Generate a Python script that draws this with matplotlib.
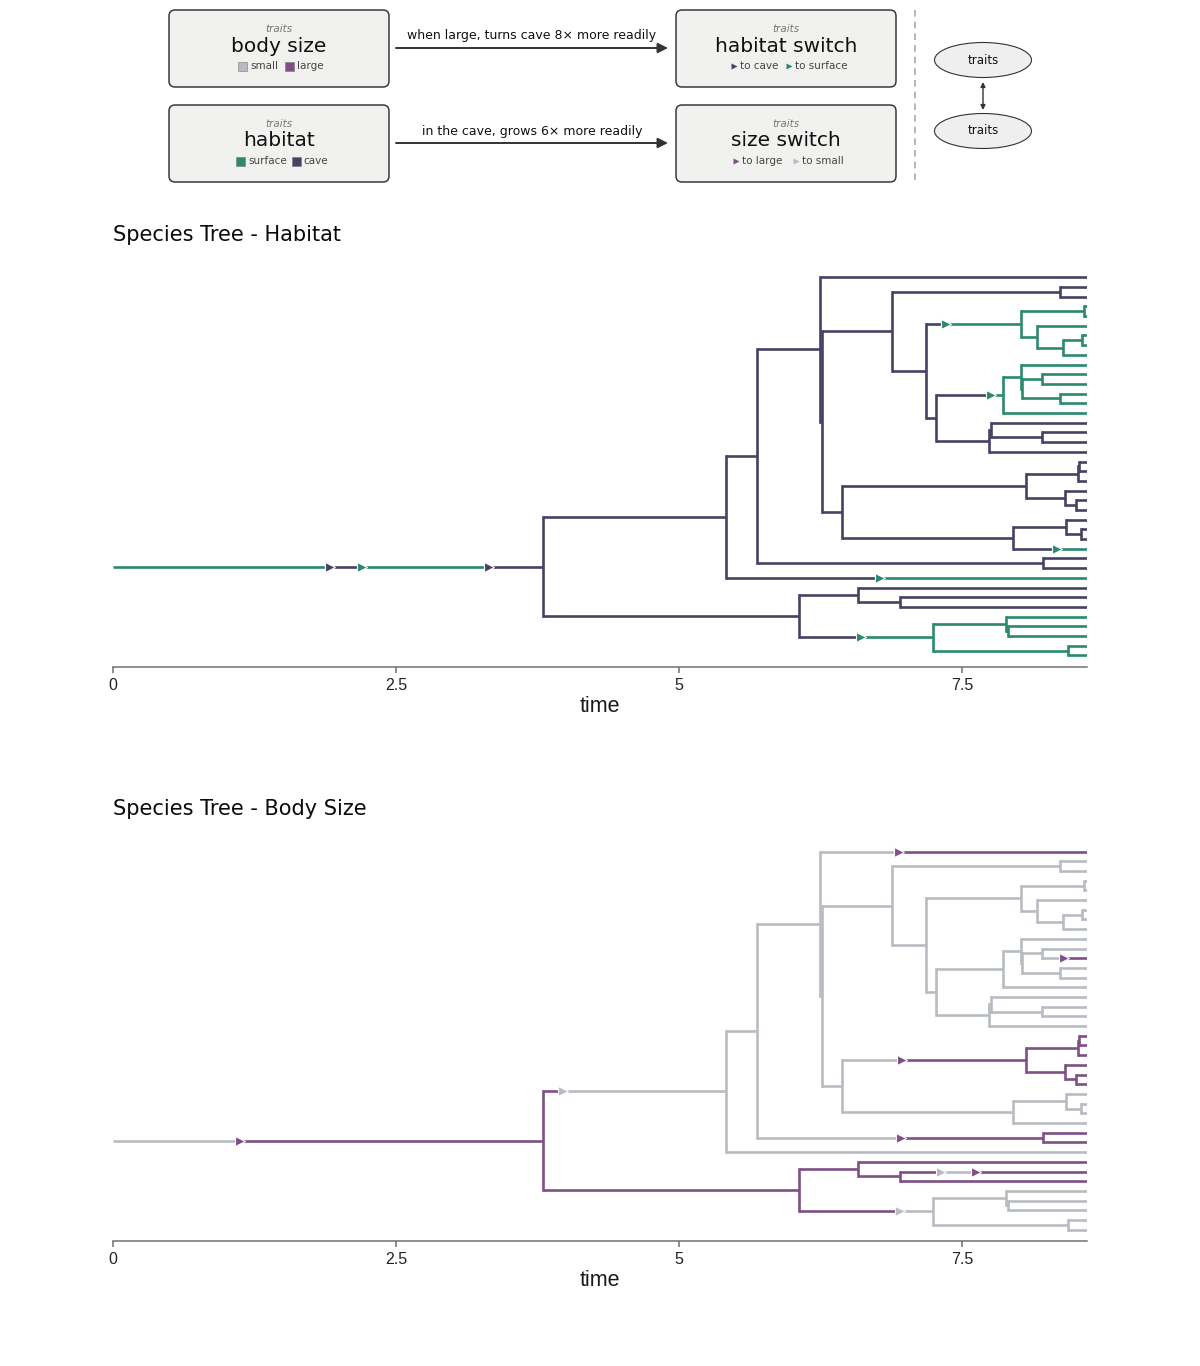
import matplotlib
matplotlib.use('Agg')
import matplotlib.pyplot as plt
from matplotlib.patches import FancyBboxPatch, Ellipse, Rectangle
from collections import defaultdict

# ---------------- data ----------------
tip_time = 8.6
internal_names = ['root', 'n726', 'n757', 'A', 'B', 'C', 'N12', 'D', 'E', 'J', 'G', 'H', 'I',
                  'F', 'K', 'Ma', 'Mb', 'P', 'Q', 'L2', 'L1', 'R',
                  'S', 'T', 'V', 'V1', 'W', 'X', 'U', 'Y', 'Z', 'AA',
                  'BB', 'CC', 'EE', 'DD', 'FF', 'FF2', 'GG']
internal_times = [3.80, 5.415, 5.69, 6.245, 6.258, 6.88, 8.36, 7.18, 8.02, 8.572, 8.16, 8.39, 8.555,
                  7.27, 7.86, 8.019, 8.03, 8.205, 8.36, 7.735, 7.75, 8.203,
                  6.437, 8.057, 8.522, 8.532, 8.404, 8.504, 7.944, 8.416, 8.551, 8.209,
                  6.06, 6.578, 6.952, 7.238, 7.889, 7.902, 8.434]
internal_children = [['n726', 'BB'], ['n757', 'leaf31'], ['A', 'AA'], ['leaf0', 'B'], ['C', 'S'],
                     ['N12', 'D'], ['leaf1', 'leaf2'], ['E', 'F'], ['J', 'G'], ['leaf3', 'leaf4'],
                     ['leaf5', 'H'], ['I', 'leaf8'], ['leaf6', 'leaf7'],
                     ['K', 'L2'], ['Ma', 'leaf14'], ['leaf9', 'Mb'], ['P', 'Q'], ['leaf10', 'leaf11'],
                     ['leaf12', 'leaf13'], ['L1', 'leaf18'], ['leaf15', 'R'], ['leaf16', 'leaf17'],
                     ['T', 'U'], ['V', 'W'], ['V1', 'leaf21'], ['leaf19', 'leaf20'], ['leaf22', 'X'],
                     ['leaf23', 'leaf24'], ['Y', 'leaf28'], ['leaf25', 'Z'], ['leaf26', 'leaf27'],
                     ['leaf29', 'leaf30'],
                     ['CC', 'DD'], ['leaf32', 'EE'], ['leaf33', 'leaf34'], ['FF', 'GG'],
                     ['leaf35', 'FF2'], ['leaf36', 'leaf37'], ['leaf38', 'leaf39']]

# habitat history (branch = node at the end of the branch)
habitat_root_state = 'surface'
habitat_switch_branch = ['root', 'root', 'root', 'E', 'K', 'leaf28', 'leaf31', 'DD']
habitat_switch_time = [1.914, 2.202, 3.316, 7.356, 7.753, 8.336, 6.776, 6.608]
habitat_switch_state = ['cave', 'surface', 'cave', 'surface', 'surface', 'surface', 'surface', 'surface']

# body size history
size_root_state = 'small'
size_switch_branch = ['root', 'n726', 'leaf0', 'leaf11', 'T', 'AA', 'leaf33', 'leaf33', 'DD']
size_switch_time = [1.12, 3.975, 6.94, 8.40, 6.97, 6.96, 7.31, 7.62, 6.95]
size_switch_state = ['large', 'small', 'large', 'large', 'large', 'large', 'small', 'large', 'small']

habitat_colors = {'surface': '#2b8a6e', 'cave': '#464263'}
size_colors = {'small': '#b8bbc2', 'large': '#7f4f86'}

xticks = [0, 2.5, 5, 7.5]
xtick_labels = ['0', '2.5', '5', '7.5']

# ---------------- tree layout ----------------
children = dict(zip(internal_names, internal_children))
node_time = dict(zip(internal_names, internal_times))
node_y = {}
counter = [0]


def layout(n):
    if n in children:
        for c in children[n]:
            layout(c)
        node_y[n] = 0.5 * (node_y[children[n][0]] + node_y[children[n][-1]])
    else:
        node_y[n] = counter[0]
        counter[0] += 1
        node_time[n] = tip_time


layout('root')

W, H = 1200, 1366
fig = plt.figure(figsize=(12, 13.66), dpi=100)

LW = 1.9


def draw_tree(ax, root_state, sw_branch, sw_time, sw_state, palette):
    events = defaultdict(list)
    for b, t, s in zip(sw_branch, sw_time, sw_state):
        events[b].append((t, s))
    marks = []

    def rec(n, state, t0):
        t1 = node_time[n]
        y = node_y[n]
        cur, tc = state, t0
        for (t, s) in sorted(events[n]):
            ax.plot([tc, t], [y, y], color=palette[cur], lw=LW, solid_capstyle='butt', zorder=2)
            marks.append((t, y, s))
            cur, tc = s, t
        ax.plot([tc, t1], [y, y], color=palette[cur], lw=LW, solid_capstyle='butt', zorder=2)
        if n in children:
            ys = [node_y[c] for c in children[n]]
            ax.plot([t1, t1], [min(ys), max(ys)], color=palette[cur], lw=LW,
                    solid_capstyle='projecting', zorder=2)
            for c in children[n]:
                rec(c, cur, t1)

    rec('root', root_state, 0.0)
    for t, y, s in marks:
        ax.plot([t], [y], marker='>', ms=7.6, color=palette[s], mec='white', mew=0.8,
                zorder=4, linestyle='none')

    ax.set_xlim(0, tip_time)
    ax.set_ylim(39 + 1.2, -1.2)
    for sp in ['top', 'right', 'left']:
        ax.spines[sp].set_visible(False)
    ax.spines['bottom'].set_color('#707070')
    ax.spines['bottom'].set_linewidth(1.1)
    ax.set_yticks([])
    ax.set_xticks(xticks)
    ax.set_xticklabels(xtick_labels, fontfamily='Liberation Sans', fontsize=11.5, color='#222222')
    ax.tick_params(axis='x', length=4, width=1.1, color='#707070', pad=4)
    ax.set_xlabel('time', fontfamily='Liberation Sans', fontsize=15.5, color='#1a1a1a', labelpad=2)


ax_h = fig.add_axes([113 / W, 1 - 667 / H, 974 / W, (667 - 265.7) / H])
draw_tree(ax_h, habitat_root_state, habitat_switch_branch, habitat_switch_time,
          habitat_switch_state, habitat_colors)
fig.text(113 / W, 1 - 235 / H, 'Species Tree - Habitat', fontsize=15, va='center', ha='left',
         color='#0a0a0a')

ax_b = fig.add_axes([113 / W, 1 - 1241.3 / H, 974 / W, (1241.3 - 840.0) / H])
draw_tree(ax_b, size_root_state, size_switch_branch, size_switch_time,
          size_switch_state, size_colors)
fig.text(113 / W, 1 - 809 / H, 'Species Tree - Body Size', fontsize=15, va='center', ha='left',
         color='#0a0a0a')

# ---------------- top diagram ----------------
dax = fig.add_axes([0, 0, 1, 1], zorder=-1)
dax.set_xlim(0, W)
dax.set_ylim(H, 0)
dax.axis('off')

box_fc = '#f1f1ef'
box_ec = '#3a3a3a'


def box(x0, y0, w, h, title):
    dax.add_patch(FancyBboxPatch((x0, y0), w, h, boxstyle='round,pad=0,rounding_size=6',
                                 fc=box_fc, ec=box_ec, lw=1.1))
    cx = x0 + w / 2
    dax.text(cx, y0 + 19, 'traits', style='italic', fontsize=7.5, color='#777777',
             ha='center', va='center')
    dax.text(cx, y0 + 36, title, fontsize=14.5, color='#111111', ha='center', va='center')


def sq(x, y, color):
    dax.add_patch(Rectangle((x - 4.5, y - 4.5), 9, 9, fc=color, ec='#777777', lw=0.4))


def tri(x, y, color):
    dax.plot([x], [y], marker='>', ms=4.4, color=color, mec='none', linestyle='none')


def lab(x, y, s):
    dax.text(x, y, s, fontsize=7.5, color='#444444', ha='left', va='center')


box(169, 10, 220, 77, 'body size')
sq(242, 66, size_colors['small'])
lab(250, 66, 'small')
sq(289, 66, size_colors['large'])
lab(297, 66, 'large')

box(169, 105, 220, 77, 'habitat')
sq(240, 161, habitat_colors['surface'])
lab(248, 161, 'surface')
sq(296, 161, habitat_colors['cave'])
lab(303, 161, 'cave')

box(676, 10, 220, 77, 'habitat switch')
tri(734, 66, habitat_colors['cave'])
lab(740, 66, 'to cave')
tri(789, 66, habitat_colors['surface'])
lab(795, 66, 'to surface')

box(676, 105, 220, 77, 'size switch')
tri(736, 161, size_colors['large'])
lab(742, 161, 'to large')
tri(796, 161, size_colors['small'])
lab(802, 161, 'to small')

for y, s in [(48, 'when large, turns cave 8\u00d7 more readily'),
             (143, 'in the cave, grows 6\u00d7 more readily')]:
    dax.annotate('', xy=(668, y), xytext=(396, y),
                 arrowprops=dict(arrowstyle='-|>', color='#333333', lw=1.4,
                                 mutation_scale=15, shrinkA=0, shrinkB=0))
    dax.text(532, y - 12, s, fontsize=9, color='#111111', ha='center', va='center')

dax.plot([915, 915], [10, 182], color='#aaaaaa', lw=1.2, ls=(0, (4, 3)))

for cy in [60, 131]:
    dax.add_patch(Ellipse((983, cy), 97, 35, fc='#efefef', ec='#333333', lw=0.8))
    dax.text(983, cy, 'traits', fontsize=8.5, color='#111111', ha='center', va='center')
dax.annotate('', xy=(983, 110), xytext=(983, 82),
             arrowprops=dict(arrowstyle='<|-|>', color='#333333', lw=1.0,
                             mutation_scale=7, shrinkA=0, shrinkB=0))

fig.savefig('out.png', dpi=100)
